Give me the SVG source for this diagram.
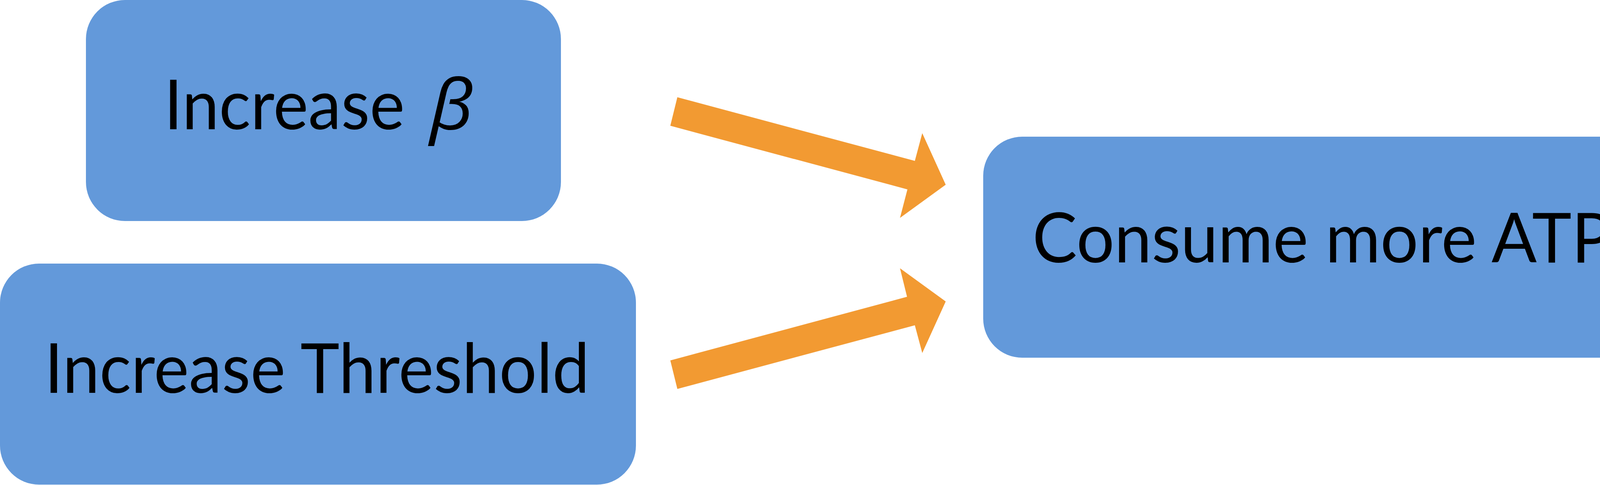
<svg xmlns="http://www.w3.org/2000/svg" width="7842" height="1242" viewBox="0 0 7842 1242">
  <style>
    .box { fill: #6399da; }
    .arrow { fill: #f29a32; }
    .label { font-family: Lato, "Open Sans", "Noto Sans", sans-serif; font-size: 177px; fill: #000000; }
    .greek { font-family: "Open Sans", "Noto Sans", "DejaVu Sans", sans-serif; font-size: 178px; font-style: italic; fill: #000000; }
  </style>
  <rect width="7842" height="1242" fill="#ffffff"/>
  <g id="connectors">
    <polygon class="arrow" points="1734,249 2342,412 2361,341 2421,473 2304,558 2323,485 1716,322"/>
    <polygon class="arrow" points="1716,923 2322,760 2304,687 2421,772 2361,904 2342,833 1734,996"/>
    <polygon class="arrow" points="4350,581 4994,581 4994,509 5088,618.5 4994,728 4994,656 4350,656"/>
  </g>
  <g id="node-increase-beta">
    <rect class="box" x="220" y="0" width="1216" height="566" rx="100" ry="100"/>
    <text class="label" x="420" y="331" textLength="616" lengthAdjust="spacingAndGlyphs">Increase</text>
    <text class="greek" x="1100" y="331" textLength="112" lengthAdjust="spacingAndGlyphs">β</text>
  </g>
  <g id="node-increase-threshold">
    <rect class="box" x="0" y="675" width="1628" height="566" rx="100" ry="100"/>
    <text class="label" x="114" y="1006" textLength="1395" lengthAdjust="spacingAndGlyphs">Increase Threshold</text>
  </g>
  <g id="node-consume-atp">
    <rect class="box" x="2517" y="350" width="1746" height="566" rx="100" ry="100"/>
    <text class="label" x="2643" y="672" textLength="1483" lengthAdjust="spacingAndGlyphs">Consume more ATP</text>
  </g>
  <g id="node-ras-suppressed">
    <rect class="box" x="5184" y="334" width="2657" height="566" rx="100" ry="100"/>
    <text class="label" x="5286" y="668" textLength="2452" lengthAdjust="spacingAndGlyphs">Ras activation can be suppressed</text>
  </g>
</svg>
